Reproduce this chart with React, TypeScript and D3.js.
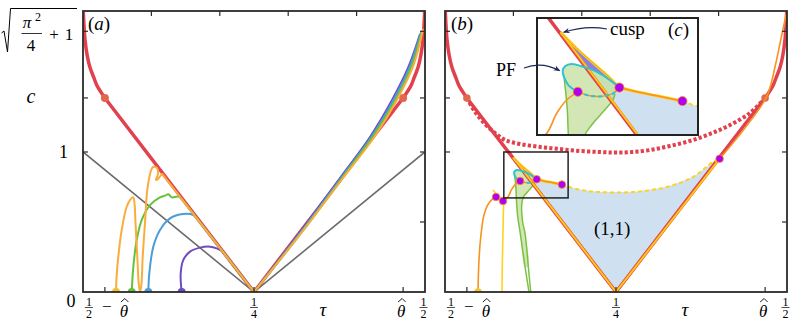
import React from "react";
import * as d3 from "d3";

type Pt = [number, number];

// ---- axis ticks (tau, c) ----
const thetaHat = 0.468;
const cStar = 1.386;
const cTop = 1.862; // sqrt(pi^2/4 + 1)
const bottomTicks = [0.5 - thetaHat, 0.25, thetaHat];
const topTicks = [0.1, 0.2, 0.3, 0.4];
const leftTicks = [1, cStar, cTop];
const rightTicks = [0.5, 1, cStar, cTop];

// ---- red boundary, shared by (a) and (b) ----
const redLeft: Pt[] = [[0.0005, 2.0], [0.0015, 1.9], [0.003, 1.8], [0.006, 1.693], [0.010, 1.607], [0.016, 1.529], [0.020, 1.479], [0.026, 1.429], [0.032, 1.386]];
const redRight: Pt[] = [[0.468, 1.386], [0.474, 1.429], [0.480, 1.479], [0.484, 1.529], [0.490, 1.607], [0.494, 1.693], [0.497, 1.8], [0.4985, 1.9], [0.4995, 2.0]];
const redVee: Pt[] = [[0.032, 1.386], [0.25, 0], [0.468, 1.386]];
const redDots: Pt[] = [[0.032, 1.386], [0.468, 1.386]];
const grayVee: Pt[] = [[0, 1], [0.25, 0], [0.5, 1]];

// ---- panel (a) branches ----
const aOrangeLeft: Pt[] = [[0.0482, 0], [0.0490, 0.10], [0.0516, 0.252], [0.0566, 0.443], [0.0639, 0.609], [0.0700, 0.665], [0.0735, 0.676], [0.0755, 0.62], [0.0768, 0.491], [0.0794, 0.252], [0.0815, 0.06], [0.0835, 0.0], [0.0855, 0.06], [0.0873, 0.252], [0.0906, 0.491], [0.0940, 0.729], [0.0989, 0.859], [0.1023, 0.893], [0.1082, 0.886], [0.1096, 0.843], [0.1067, 0.80], [0.1096, 0.807], [0.1155, 0.846]];
const aGreenLeft: Pt[] = [[0.0712, 0], [0.0736, 0.181], [0.0785, 0.371], [0.0858, 0.514], [0.098, 0.621], [0.1126, 0.676], [0.1199, 0.688], [0.1248, 0.698], [0.1297, 0.676], [0.1393, 0.681], [0.1485, 0.64]];
const aBlueLeft: Pt[] = [[0.0955, 0], [0.0969, 0.131], [0.1028, 0.324], [0.1126, 0.443], [0.1272, 0.526], [0.1467, 0.557], [0.1613, 0.55], [0.1652, 0.534]];
const aPurpleLeft: Pt[] = [[0.1443, 0], [0.1428, 0.131], [0.1467, 0.229], [0.1564, 0.288], [0.1711, 0.317], [0.1857, 0.324], [0.1954, 0.312], [0.2035, 0.292]];
const aPurpleRight: Pt[] = [[0.25, 0], [0.3173, 0.429], [0.3757, 0.814], [0.4196, 1.107], [0.4518, 1.371], [0.4751, 1.6], [0.4927, 1.843]];
const aBlueRight: Pt[] = [[0.25, 0], [0.3187, 0.429], [0.3772, 0.814], [0.4225, 1.114], [0.4547, 1.379], [0.4781, 1.614], [0.4942, 1.857]];
const aGreenRight: Pt[] = [[0.25, 0], [0.3202, 0.429], [0.3787, 0.814], [0.424, 1.114], [0.4576, 1.379], [0.481, 1.621], [0.4956, 1.864]];
const aOrangeRight: Pt[] = [[0.25, 0], [0.3202, 0.429], [0.3801, 0.814], [0.4269, 1.114], [0.4605, 1.386], [0.4839, 1.629], [0.4971, 1.879]];

const aSeries = [
  { line: "#6e4bc3", dot: "#6e4bc3", left: aPurpleLeft, right: aPurpleRight },
  { line: "#4a9dd8", dot: "#4a9dd8", left: aBlueLeft, right: aBlueRight },
  { line: "#66c23a", dot: "#66c23a", left: aGreenLeft, right: aGreenRight },
  { line: "#f8ad3c", dot: "#f5be2e", left: aOrangeLeft, right: aOrangeRight },
];

// ---- panel (b) ----
const bRedDotted: Pt[] = [[0.032, 1.386], [0.0439, 1.286], [0.0585, 1.2], [0.0731, 1.136], [0.0877, 1.086], [0.1096, 1.057], [0.1389, 1.036], [0.1681, 1.021], [0.1974, 1.007], [0.2266, 1.0], [0.25, 0.996], [0.2734, 1.0], [0.2997, 1.014], [0.3289, 1.043], [0.3582, 1.079], [0.3874, 1.129], [0.4167, 1.193], [0.4459, 1.279], [0.468, 1.386]];
const cusp: Pt = [0.0998, 0.960];
const bUpper: Pt[] = [[0.0998, 0.960], [0.1092, 0.915], [0.1189, 0.873], [0.1276, 0.837], [0.1341, 0.805]];
const bOrangeMid: Pt[] = [[0.1341, 0.805], [0.1442, 0.793], [0.1559, 0.782], [0.1709, 0.767]];
const bYellowDashed: Pt[] = [[0.1709, 0.767], [0.1793, 0.753], [0.20, 0.728], [0.2266, 0.714], [0.2749, 0.714], [0.3246, 0.75], [0.3626, 0.821], [0.3918, 0.929], [0.4015, 0.952]];
const bLeftEdge: Pt[] = [[0.0998, 0.960], [0.25, 0]];
const bRightEdge: Pt[] = [[0.25, 0], [0.4015, 0.952]];
const bOrangeUp: Pt[] = [[0.4015, 0.952], [0.4693, 1.386], [0.4825, 1.609], [0.4908, 1.8], [0.4996, 2.0]];
const bOrangeRise: Pt[] = [[0.0482, 0], [0.0497, 0.229], [0.0526, 0.407], [0.057, 0.55], [0.0643, 0.636], [0.0746, 0.679], [0.082, 0.668], [0.0907, 0.672], [0.0975, 0.733], [0.1033, 0.770], [0.1098, 0.793]];
const bYellowCurve: Pt[] = [[0.0702, 0.729], [0.075, 0.70], [0.080, 0.672], [0.0848, 0.65], [0.0852, 0.55], [0.0846, 0.40], [0.0838, 0.20], [0.0833, 0]];
const bCyan: Pt[] = [[0.1341, 0.805], [0.1286, 0.826], [0.1209, 0.849], [0.1130, 0.863], [0.1063, 0.871], [0.1024, 0.865], [0.1010, 0.852], [0.1018, 0.834], [0.1043, 0.812], [0.1098, 0.793]];
const bCyanDashed: Pt[] = [[0.1098, 0.793], [0.1170, 0.782], [0.1247, 0.781], [0.1306, 0.789], [0.1341, 0.805]];
const bGreenLeft: Pt[] = [[0.1018, 0.834], [0.1030, 0.78], [0.1037, 0.742], [0.1043, 0.672], [0.1060, 0.55], [0.1100, 0.42], [0.1170, 0.18], [0.1228, 0]];
const bGreenRight: Pt[] = [[0.1315, 0.787], [0.1302, 0.770], [0.1238, 0.733], [0.1179, 0.700], [0.1140, 0.672], [0.1121, 0.62], [0.1135, 0.50], [0.1170, 0.42], [0.1218, 0.18], [0.1253, 0]];
const bPurpleEdge: Pt[] = [[0.1286, 0.826], [0.1209, 0.849], [0.1160, 0.858]];
const bPurpleDots: Pt[] = [[0.0746, 0.679], [0.0848, 0.65], [0.1098, 0.793], [0.1341, 0.805], [0.1709, 0.767], [0.4015, 0.952]];
const bYellowDot: Pt = [0.0482, 0];

// inset (c) window, in (tau, c)
const insetTau: [number, number] = [0.086, 0.180];
const insetC: [number, number] = [0.672, 1.0];

const RED = "#e2404c";
const ORANGE = "#f7931e";
const YELLOW = "#ffd21f";
const FONT = "'Liberation Serif', 'DejaVu Serif', serif";

type Sc = d3.ScaleLinear<number, number>;

const mk = (sx: Sc, sy: Sc, smooth = true) =>
  d3.line<Pt>().x((d) => sx(d[0])).y((d) => sy(d[1]))
    .curve(smooth ? d3.curveCatmullRom.alpha(0.5) : d3.curveLinear);

function RedBoundary({ sx, sy, r }: { sx: Sc; sy: Sc; r: number }) {
  const sm = mk(sx, sy);
  const st = mk(sx, sy, false);
  return (
    <g>
      <path d={sm(redLeft) ?? ""} fill="none" stroke={RED} strokeWidth={3.5} />
      <path d={sm(redRight) ?? ""} fill="none" stroke={RED} strokeWidth={3.5} />
      <path d={st(redVee) ?? ""} fill="none" stroke={RED} strokeWidth={3.5} strokeLinejoin="miter" />
      {redDots.map((d, i) => (
        <circle key={i} cx={sx(d[0])} cy={sy(d[1])} r={r} fill="#e3674f" />
      ))}
    </g>
  );
}

function BContent({ sx, sy, r }: { sx: Sc; sy: Sc; r: number }) {
  const sm = mk(sx, sy);
  const st = mk(sx, sy, false);
  const blueRegion: Pt[] = [...bUpper, ...bOrangeMid.slice(1), ...bYellowDashed.slice(1), [0.25, 0], cusp];
  const greenRegion: Pt[] = [...bCyan.slice(0, 8), ...bGreenLeft.slice(1, 7), ...bGreenRight.slice(0, 9).reverse()];
  const purpleRegion: Pt[] = [...bUpper, ...bPurpleEdge];
  return (
    <g>
      <path d={st(blueRegion) ?? ""} fill="#cfe1f0" />
      <path d={sm(greenRegion) ?? ""} fill="#c4df9e" fillOpacity={0.75} />
      <path d={st(purpleRegion) ?? ""} fill="#8a7fe0" />
      <path d={sm(bGreenLeft) ?? ""} fill="none" stroke="#7cc242" strokeWidth={1.5} />
      <path d={sm(bGreenRight) ?? ""} fill="none" stroke="#7cc242" strokeWidth={1.5} />
      <path d={sm(bRedDotted) ?? ""} fill="none" stroke={RED} strokeWidth={4} strokeDasharray="3.2 2.2" />
      <RedBoundary sx={sx} sy={sy} r={r} />
      {[bLeftEdge, bRightEdge].map((e, i) => (
        <g key={i}>
          <path d={st(e) ?? ""} fill="none" stroke={ORANGE} strokeWidth={2.4} />
          <path d={st(e) ?? ""} fill="none" stroke={YELLOW} strokeWidth={1.2} />
        </g>
      ))}
      <path d={sm(bOrangeUp) ?? ""} fill="none" stroke={ORANGE} strokeWidth={1.6} />
      <path d={sm(bUpper) ?? ""} fill="none" stroke={YELLOW} strokeWidth={2.6} />
      <path d={sm(bUpper) ?? ""} fill="none" stroke={ORANGE} strokeWidth={0.8} />
      <path d={sm(bOrangeMid) ?? ""} fill="none" stroke={YELLOW} strokeWidth={3} />
      <path d={sm(bOrangeMid) ?? ""} fill="none" stroke={ORANGE} strokeWidth={1.6} />
      <path d={sm(bYellowDashed) ?? ""} fill="none" stroke={YELLOW} strokeWidth={2} strokeDasharray="4 3" />
      <path d={sm(bOrangeRise) ?? ""} fill="none" stroke={ORANGE} strokeWidth={1.6} />
      <path d={sm(bYellowCurve) ?? ""} fill="none" stroke={YELLOW} strokeWidth={1.6} />
      <path d={sm(bCyanDashed) ?? ""} fill="none" stroke={ORANGE} strokeWidth={1.4} />
      <path d={sm(bCyanDashed) ?? ""} fill="none" stroke="#2cc3d3" strokeWidth={2} strokeDasharray="4 3" />
      <path d={sm(bCyan) ?? ""} fill="none" stroke="#2cc3d3" strokeWidth={2} />
      <circle cx={sx(bYellowDot[0])} cy={sy(bYellowDot[1])} r={r} fill="#f6c42b" />
      {bPurpleDots.map((d, i) => (
        <circle key={i} cx={sx(d[0])} cy={sy(d[1])} r={r} fill="#b000ee" stroke={ORANGE} strokeWidth={0.8} />
      ))}
    </g>
  );
}

function Frame({ sx, sy }: { sx: Sc; sy: Sc }) {
  const [x0, x1] = sx.range();
  const [y0, y1] = sy.range(); // y0 bottom, y1 top
  const tk = "#2b2b2b";
  return (
    <g stroke={tk} strokeWidth={1.2}>
      {bottomTicks.map((t, i) => <line key={"b" + i} x1={sx(t)} x2={sx(t)} y1={y0} y2={y0 - 5} />)}
      {topTicks.map((t, i) => <line key={"t" + i} x1={sx(t)} x2={sx(t)} y1={y1} y2={y1 + 5} />)}
      {leftTicks.map((t, i) => <line key={"l" + i} x1={x0} x2={x0 + 5} y1={sy(t)} y2={sy(t)} />)}
      {rightTicks.map((t, i) => <line key={"r" + i} x1={x1} x2={x1 - 5} y1={sy(t)} y2={sy(t)} />)}
      <rect x={x0} y={y1} width={x1 - x0} height={y0 - y1} fill="none" strokeWidth={1.8} />
    </g>
  );
}

function Frac({ x, y, n, d }: { x: number; y: number; n: string; d: string }) {
  return (
    <g fontSize={12}>
      <text x={x} y={y - 2} textAnchor="middle">{n}</text>
      <line x1={x - 4} x2={x + 4} y1={y} y2={y} stroke="#000" strokeWidth={0.7} />
      <text x={x} y={y + 10.5} textAnchor="middle">{d}</text>
    </g>
  );
}

function ThetaHat({ x, y }: { x: number; y: number }) {
  return (
    <g>
      <text x={x} y={y} fontSize={17} fontStyle="italic" textAnchor="middle">θ</text>
      <path d={`M${x - 3} ${y - 15} L${x + 1} ${y - 18.5} L${x + 4.5} ${y - 15}`} fill="none" stroke="#000" strokeWidth={0.9} />
    </g>
  );
}

function XLabels({ sx }: { sx: Sc }) {
  const [x0] = sx.range();
  const tL = sx(bottomTicks[0]);
  const tM = sx(bottomTicks[1]);
  const tR = sx(bottomTicks[2]);
  const xEnd = sx(0.5);
  return (
    <g>
      <Frac x={tL - 16} y={307.5} n="1" d="2" />
      <text x={tL + 2} y={312} fontSize={17} textAnchor="middle">−</text>
      <ThetaHat x={tL + 19} y={317} />
      <Frac x={tM} y={307.5} n="1" d="4" />
      <text x={x0 + 240} y={316} fontSize={19} fontStyle="italic" textAnchor="middle">τ</text>
      <ThetaHat x={tR - 2} y={317} />
      <Frac x={xEnd - 1.5} y={307.5} n="1" d="2" />
    </g>
  );
}

export default function App() {
  const xA = d3.scaleLinear().domain([0, 0.5]).range([83, 425]);
  const xB = d3.scaleLinear().domain([0, 0.5]).range([445, 787]);
  const yM = d3.scaleLinear().domain([0, 2.007]).range([292, 11]);
  const xI = d3.scaleLinear().domain(insetTau).range([537, 698]);
  const yI = d3.scaleLinear().domain(insetC).range([135, 18]);

  const smA = mk(xA, yM);
  const stA = mk(xA, yM, false);

  const cuspX = xI(cusp[0]);
  const cuspY = yI(cusp[1]);
  const pfX = xI(bCyan[6][0]);
  const pfY = yI(bCyan[6][1]);

  return (
    <svg width={793} height={333} style={{ position: "absolute", left: 0, top: 0, background: "#fff", fontFamily: FONT }}>
      <defs>
        <clipPath id="clipA"><rect x={83} y={11} width={342} height={281} /></clipPath>
        <clipPath id="clipB"><rect x={445} y={11} width={342} height={281} /></clipPath>
        <clipPath id="clipI"><rect x={537} y={18} width={161} height={117} /></clipPath>
        <marker id="arr" viewBox="0 0 10 10" refX={9} refY={5} markerWidth={6} markerHeight={6} orient="auto">
          <path d="M0,1 L10,5 L0,9 L3,5 Z" fill="#1b2856" />
        </marker>
      </defs>

      {/* panel (a) */}
      <g clipPath="url(#clipA)">
        <path d={stA(grayVee) ?? ""} fill="none" stroke="#6b6b6b" strokeWidth={1.6} />
        <RedBoundary sx={xA} sy={yM} r={4} />
        {aSeries.map((s, i) => {
          const join = s.left[s.left.length - 1];
          return (
            <g key={i} fill="none" stroke={s.line} strokeWidth={2}>
              <path d={smA(s.left) ?? ""} />
              <path d={stA([join, [0.25, 0]]) ?? ""} />
              <path d={smA(s.right) ?? ""} />
            </g>
          );
        })}
        {aSeries.map((s, i) => (
          <circle key={i} cx={xA(s.left[0][0])} cy={yM(s.left[0][1])} r={4} fill={s.dot} />
        ))}
      </g>
      <Frame sx={xA} sy={yM} />

      {/* panel (b) */}
      <g clipPath="url(#clipB)">
        <BContent sx={xB} sy={yM} r={3.8} />
        <rect x={xB(insetTau[0])} y={yM(insetC[1])} width={xB(insetTau[1]) - xB(insetTau[0])}
          height={yM(insetC[0]) - yM(insetC[1])} fill="none" stroke="#222" strokeWidth={1.5} />
        <text x={594} y={235} fontSize={19}>(1,1)</text>
      </g>
      <Frame sx={xB} sy={yM} />

      {/* inset (c) */}
      <rect x={537} y={18} width={161} height={117} fill="#fff" />
      <g clipPath="url(#clipI)">
        <BContent sx={xI} sy={yI} r={4.6} />
      </g>
      <rect x={537} y={18} width={161} height={117} fill="none" stroke="#222" strokeWidth={2} />
      <text x={610} y={35} fontSize={19}>cusp</text>
      <text x={668} y={36} fontSize={19}>(<tspan fontStyle="italic">c</tspan>)</text>
      <path d={`M607 29 Q586 25 ${cuspX + 3} ${cuspY}`} fill="none" stroke="#1b2856" strokeWidth={1.1} markerEnd="url(#arr)" />
      <text x={496} y={76} fontSize={18}>PF</text>
      <path d={`M524 68 Q542 61 ${pfX - 3} ${pfY}`} fill="none" stroke="#1b2856" strokeWidth={1.1} markerEnd="url(#arr)" />

      {/* panel letters */}
      <text x={88} y={30} fontSize={19}>(<tspan fontStyle="italic">a</tspan>)</text>
      <text x={451} y={30} fontSize={19}>(<tspan fontStyle="italic">b</tspan>)</text>

      {/* y labels */}
      <g>
        <path d="M1.5 33 L4 31 L7.5 52 L10.5 8.5 L77 8.5" fill="none" stroke="#000" strokeWidth={1} />
        <text x={27} y={28} fontSize={17} fontStyle="italic" textAnchor="middle">π</text>
        <text x={35} y={21} fontSize={12}>2</text>
        <line x1={21.5} x2={42} y1={33.5} y2={33.5} stroke="#000" strokeWidth={0.8} />
        <text x={31} y={51} fontSize={17} textAnchor="middle">4</text>
        <text x={54} y={40} fontSize={17} textAnchor="middle">+</text>
        <text x={69} y={40} fontSize={17} textAnchor="middle">1</text>
      </g>
      <text x={31} y={103} fontSize={20} fontStyle="italic" textAnchor="middle">c</text>
      <text x={63.5} y={158} fontSize={18} textAnchor="middle">1</text>
      <text x={71} y={307} fontSize={18} textAnchor="middle">0</text>

      <XLabels sx={xA} />
      <XLabels sx={xB} />
    </svg>
  );
}
